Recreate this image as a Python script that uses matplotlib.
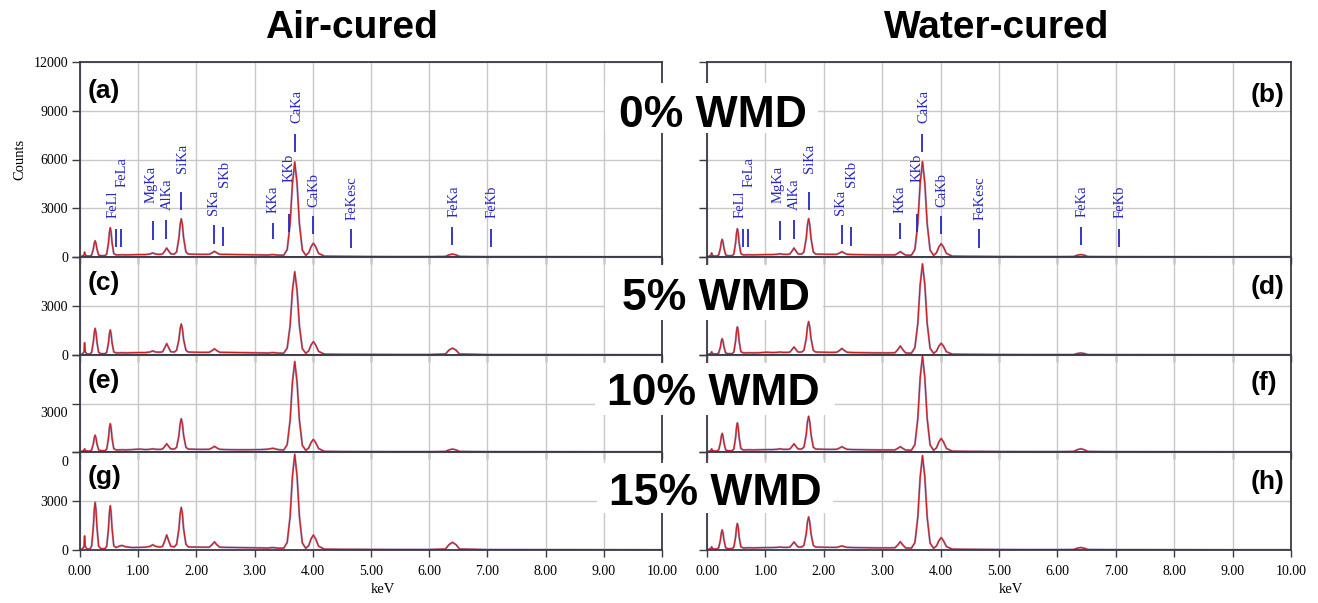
import matplotlib
matplotlib.use("Agg")
import matplotlib.pyplot as plt
from matplotlib.transforms import ScaledTranslation
from matplotlib.patches import Rectangle

# ---------------- data ----------------
# energy grid (keV), grouped by spectral region
KEV_GROUPS = [
    [0.00, 0.04, 0.07, 0.08, 0.09, 0.12],
    [0.17, 0.20, 0.23, 0.245, 0.26, 0.275, 0.29, 0.32, 0.36],      # C
    [0.43, 0.46, 0.49, 0.505, 0.52, 0.535, 0.55, 0.58, 0.62],      # O
    [0.67, 0.72, 0.78, 0.90, 1.02, 1.12],
    [1.20, 1.25, 1.30, 1.38],                                      # Mg
    [1.42, 1.455, 1.49, 1.525, 1.56],                              # Al
    [1.62, 1.66, 1.70, 1.72, 1.74, 1.76, 1.78, 1.82, 1.86],        # Si
    [1.95, 2.10],
    [2.22, 2.27, 2.31, 2.35, 2.40],                                # S
    [2.50, 2.70, 2.90, 3.10],
    [3.22, 3.27, 3.31, 3.35, 3.40],                                # K
    [3.50, 3.56, 3.61, 3.65, 3.69, 3.73, 3.77, 3.82, 3.88],        # Ca Ka
    [3.93, 3.97, 4.01, 4.05, 4.10],                                # Ca Kb
    [4.20, 4.50, 5.00, 5.50, 6.00],
    [6.28, 6.34, 6.40, 6.46, 6.52],                                # Fe Ka
    [7.00, 8.00, 9.00, 10.00],
]

COUNTS_A = [
    [0, 60, 120, 300, 120, 60],
    [60, 120, 500, 840, 1000, 840, 500, 120, 80],
    [80, 190, 900, 1510, 1800, 1510, 900, 210, 130],
    [130, 140, 130, 140, 150, 150],
    [180, 250, 180, 160],
    [190, 360, 550, 360, 190],
    [180, 310, 1180, 1970, 2350, 1970, 1180, 310, 180],
    [170, 160],
    [165, 255, 350, 255, 165],
    [160, 150, 140, 130],
    [120, 135, 150, 135, 115],
    [110, 450, 2050, 4500, 5850, 4500, 2050, 430, 100],
    [260, 630, 850, 630, 220],
    [50, 40, 30, 25, 25],
    [35, 130, 180, 130, 35],
    [20, 15, 10, 10],
]
COUNTS_B = [
    [0, 60, 110, 250, 110, 60],
    [60, 125, 545, 915, 1090, 915, 545, 125, 80],
    [80, 185, 870, 1460, 1740, 1460, 870, 205, 130],
    [130, 140, 130, 140, 150, 150],
    [165, 200, 165, 160],
    [190, 360, 550, 360, 190],
    [180, 310, 1180, 1980, 2360, 1980, 1180, 310, 180],
    [170, 160],
    [165, 245, 330, 245, 165],
    [150, 140, 130, 130],
    [130, 230, 330, 230, 120],
    [110, 460, 2060, 4530, 5880, 4530, 2060, 430, 100],
    [260, 610, 820, 610, 220],
    [50, 40, 30, 25, 25],
    [30, 110, 150, 110, 30],
    [20, 15, 10, 10],
]
COUNTS_C = [
    [0, 60, 200, 750, 200, 60],
    [60, 160, 815, 1370, 1630, 1370, 815, 160, 80],
    [80, 170, 765, 1285, 1530, 1285, 765, 190, 130],
    [130, 140, 130, 140, 150, 150],
    [180, 250, 180, 170],
    [200, 435, 700, 435, 200],
    [180, 290, 950, 1600, 1900, 1600, 950, 290, 180],
    [170, 160],
    [165, 270, 380, 270, 165],
    [160, 150, 140, 130],
    [120, 135, 150, 135, 115],
    [110, 420, 1790, 3930, 5100, 3930, 1790, 390, 100],
    [260, 610, 820, 610, 220],
    [50, 40, 35, 30, 30],
    [60, 300, 420, 300, 60],
    [25, 20, 15, 10],
]
COUNTS_D = [
    [0, 60, 100, 200, 100, 60],
    [60, 120, 500, 840, 1000, 840, 500, 120, 80],
    [80, 185, 860, 1445, 1720, 1445, 860, 205, 130],
    [130, 140, 130, 140, 170, 150],
    [160, 180, 160, 160],
    [180, 330, 490, 330, 180],
    [180, 290, 1030, 1720, 2050, 1720, 1030, 290, 180],
    [170, 160],
    [165, 280, 400, 280, 165],
    [150, 140, 130, 130],
    [140, 340, 550, 340, 130],
    [110, 450, 1950, 4300, 5580, 4300, 1950, 410, 100],
    [240, 540, 720, 540, 200],
    [50, 40, 30, 25, 25],
    [25, 90, 120, 90, 25],
    [20, 15, 10, 10],
]
COUNTS_E = [
    [0, 60, 100, 200, 100, 60],
    [60, 125, 520, 875, 1040, 875, 520, 125, 80],
    [80, 185, 875, 1470, 1750, 1470, 875, 205, 130],
    [130, 140, 130, 150, 180, 150],
    [165, 200, 165, 160],
    [190, 340, 510, 340, 190],
    [180, 290, 1030, 1730, 2060, 1730, 1030, 290, 180],
    [170, 160],
    [165, 255, 350, 255, 165],
    [150, 140, 140, 150],
    [170, 200, 230, 200, 150],
    [120, 450, 1960, 4310, 5600, 4310, 1960, 410, 100],
    [250, 580, 780, 580, 210],
    [40, 30, 25, 20, 20],
    [35, 130, 180, 130, 35],
    [20, 15, 10, 10],
]
COUNTS_F = [
    [0, 60, 100, 200, 100, 60],
    [60, 130, 575, 965, 1150, 965, 575, 130, 80],
    [80, 190, 900, 1510, 1800, 1510, 900, 210, 130],
    [130, 140, 130, 140, 150, 150],
    [165, 200, 165, 160],
    [190, 340, 510, 340, 190],
    [180, 300, 1105, 1860, 2210, 1860, 1105, 300, 180],
    [170, 160],
    [165, 245, 330, 245, 165],
    [150, 140, 130, 130],
    [130, 230, 330, 230, 120],
    [110, 460, 2080, 4580, 5950, 4580, 2080, 440, 100],
    [260, 620, 840, 620, 220],
    [50, 40, 30, 25, 25],
    [35, 140, 200, 140, 35],
    [20, 15, 10, 10],
]
COUNTS_G = [
    [0, 60, 220, 860, 220, 60],
    [60, 235, 1460, 2450, 2920, 2450, 1460, 235, 80],
    [80, 240, 1355, 2275, 2710, 2275, 1355, 260, 150],
    [230, 280, 200, 150, 160, 170],
    [220, 320, 220, 180],
    [230, 545, 920, 545, 230],
    [190, 350, 1305, 2190, 2610, 2190, 1305, 350, 190],
    [180, 170],
    [170, 330, 500, 330, 170],
    [160, 150, 140, 130],
    [120, 135, 150, 135, 115],
    [110, 460, 2050, 4510, 5860, 4510, 2050, 430, 100],
    [270, 680, 920, 680, 230],
    [50, 40, 35, 30, 30],
    [60, 330, 470, 330, 60],
    [25, 20, 15, 10],
]
COUNTS_H = [
    [0, 60, 100, 200, 100, 60],
    [60, 135, 615, 1035, 1230, 1035, 615, 135, 80],
    [80, 175, 810, 1360, 1620, 1360, 810, 195, 130],
    [130, 140, 130, 140, 150, 150],
    [160, 180, 160, 160],
    [180, 330, 490, 330, 180],
    [180, 290, 1015, 1705, 2030, 1705, 1015, 290, 180],
    [170, 160],
    [160, 205, 250, 205, 160],
    [150, 140, 130, 130],
    [140, 320, 510, 320, 130],
    [110, 450, 2020, 4450, 5780, 4450, 2020, 420, 100],
    [250, 560, 760, 560, 210],
    [50, 40, 30, 25, 25],
    [30, 110, 150, 110, 30],
    [20, 15, 10, 10],
]

# peak identification markers (top panels)
MARKER_NAMES = ["FeLl", "FeLa", "MgKa", "AlKa", "SiKa", "SKa", "SKb", "KKa",
                "KKb", "CaKa", "CaKb", "FeKesc", "FeKa", "FeKb"]
MARKER_KEV = [0.615, 0.705, 1.254, 1.486, 1.740, 2.307, 2.464, 3.313,
              3.590, 3.690, 4.012, 4.660, 6.398, 7.057]
MARKER_LO = [600, 600, 1050, 1130, 2870, 800, 700, 1130,
             1550, 6460, 1400, 575, 740, 615]
MARKER_HI = [1700, 1700, 2200, 2250, 4000, 1950, 1850, 2100,
             2650, 7590, 2500, 1700, 1850, 1750]
LABEL_KEV = [0.57, 0.72, 1.22, 1.50, 1.76, 2.29, 2.48, 3.31,
             3.60, 3.72, 4.02, 4.67, 6.43, 7.08]
LABEL_BASE = [2400, 4300, 3320, 2890, 5170, 2580, 4300, 2700,
              4610, 8240, 3075, 2275, 2460, 2400]

PANEL_LETTERS = [["(a)", "(b)"], ["(c)", "(d)"], ["(e)", "(f)"], ["(g)", "(h)"]]
ROW_LABELS = ["0% WMD", "5% WMD", "10% WMD", "15% WMD"]
COL_TITLES = ["Air-cured", "Water-cured"]
SPECTRA = [[COUNTS_A, COUNTS_B], [COUNTS_C, COUNTS_D],
           [COUNTS_E, COUNTS_F], [COUNTS_G, COUNTS_H]]
XTICKS = [0, 1, 2, 3, 4, 5, 6, 7, 8, 9, 10]
XTICK_LABELS = ["0.00", "1.00", "2.00", "3.00", "4.00", "5.00", "6.00",
                "7.00", "8.00", "9.00", "10.00"]


def flat(groups):
    out = []
    for g in groups:
        out.extend(g)
    return out


KEV = flat(KEV_GROUPS)

# ---------------- layout ----------------
W, H = 1318, 603
fig = plt.figure(figsize=(W / 100, H / 100), dpi=100)
fig.patch.set_facecolor("white")

COL_X = [(80, 662), (707, 1291)]
ROW_Y = [(62, 257), (257, 355), (355, 452), (452, 550)]

SERIF = "Liberation Serif"
SANS = "Liberation Sans"
SPINE_C = "#3a3a48"
GRID_C = "#c9c9c9"
MARK_C = "#2828c0"

LETTER_POS = [[(88, 91), (1285, 95)], [(88, 283), (1285, 287)],
              [(88, 381), (1277, 383)], [(88, 477), (1285, 482)]]

for r in range(4):
    for c in range(2):
        x0, x1 = COL_X[c]
        yt, yb = ROW_Y[r]
        ax = fig.add_axes([x0 / W, 1 - yb / H, (x1 - x0) / W, (yb - yt) / H])
        ax.set_facecolor("none")
        ax.set_xlim(0, 10)
        if r == 0:
            ax.set_ylim(0, 12000)
            ax.set_yticks([0, 3000, 6000, 9000, 12000])
            ylabels = ["0", "3000", "6000", "9000", "12000"]
        else:
            ax.set_ylim(0, 6000)
            ax.set_yticks([0, 3000, 6000])
            ylabels = ["0", "3000", ""]
        ax.set_xticks(XTICKS)
        ax.grid(True, color=GRID_C, lw=1.0, zorder=0)
        ax.set_axisbelow(True)
        for s in ax.spines.values():
            s.set_color(SPINE_C)
            s.set_linewidth(1.3)
        ax.tick_params(axis="y", direction="out", length=5.5, width=1.0,
                       color=SPINE_C, pad=3)
        ax.tick_params(axis="x", direction="out", length=5, width=1.0,
                       color=SPINE_C, pad=6)
        if c == 0:
            ax.set_yticklabels(ylabels, fontfamily=SERIF, fontsize=10)
            if r == 2:
                off = ScaledTranslation(0, -0.085, fig.dpi_scale_trans)
                for lab in ax.get_yticklabels():
                    lab.set_transform(lab.get_transform() + off)
        else:
            ax.tick_params(axis="y", labelleft=False)
        if r == 3:
            ax.set_xticklabels(XTICK_LABELS, fontfamily=SERIF, fontsize=10)
            ax.set_xlabel("keV", fontfamily=SERIF, fontsize=10.5)
            ax.xaxis.set_label_coords(0.52, -0.34)
        else:
            ax.tick_params(axis="x", labelbottom=False)

        y = flat(SPECTRA[r][c])
        ax.plot(KEV, y, color="#a58fb8", lw=1.5, zorder=2,
                solid_joinstyle="round")
        ax.plot(KEV, y, color="#cc1c1c", lw=0.8, zorder=2.5,
                solid_joinstyle="round")

        if r == 0:
            ax.vlines(MARKER_KEV, MARKER_LO, MARKER_HI, colors=MARK_C,
                      lw=1.3, zorder=3)
            for k, b, name in zip(LABEL_KEV, LABEL_BASE, MARKER_NAMES):
                ax.text(k, b, name, rotation=90, ha="center", va="bottom",
                        fontfamily=SERIF, fontsize=10.5, color=MARK_C,
                        zorder=3)
            if c == 0:
                ax.set_ylabel("Counts", fontfamily=SERIF, fontsize=10.5,
                              labelpad=5)

        lx, ly = LETTER_POS[r][c]
        fig.text(lx / W, 1 - ly / H, PANEL_LETTERS[r][c],
                 ha="left" if c == 0 else "right", va="center",
                 fontfamily=SANS, fontweight="bold", fontsize=19)

# column titles
fig.text(351 / W, 1 - 38 / H, COL_TITLES[0], ha="center", va="baseline",
         fontfamily=SANS, fontweight="bold", fontsize=28)
fig.text(997 / W, 1 - 38 / H, COL_TITLES[1], ha="center", va="baseline",
         fontfamily=SANS, fontweight="bold", fontsize=28)

# row labels on white patches (pixel extents: x0, x1, ytop, ybottom)
ROW_BOX = [(605, 818, 83, 133), (605, 823, 265, 320),
           (595, 835, 363, 415), (597, 833, 463, 513)]
ROW_LABEL_POS = [(713, 127), (716, 310), (713, 405), (715, 505)]
for (bx0, bx1, byt, byb), (px, py), txt in zip(ROW_BOX, ROW_LABEL_POS,
                                               ROW_LABELS):
    fig.add_artist(Rectangle((bx0 / W, 1 - byb / H), (bx1 - bx0) / W,
                             (byb - byt) / H, transform=fig.transFigure,
                             facecolor="white", edgecolor="none", zorder=9))
    fig.text(px / W, 1 - py / H, txt, ha="center", va="baseline",
             fontfamily=SANS, fontweight="bold", fontsize=32, zorder=10)

fig.savefig("out.png", dpi=100, facecolor="white")
